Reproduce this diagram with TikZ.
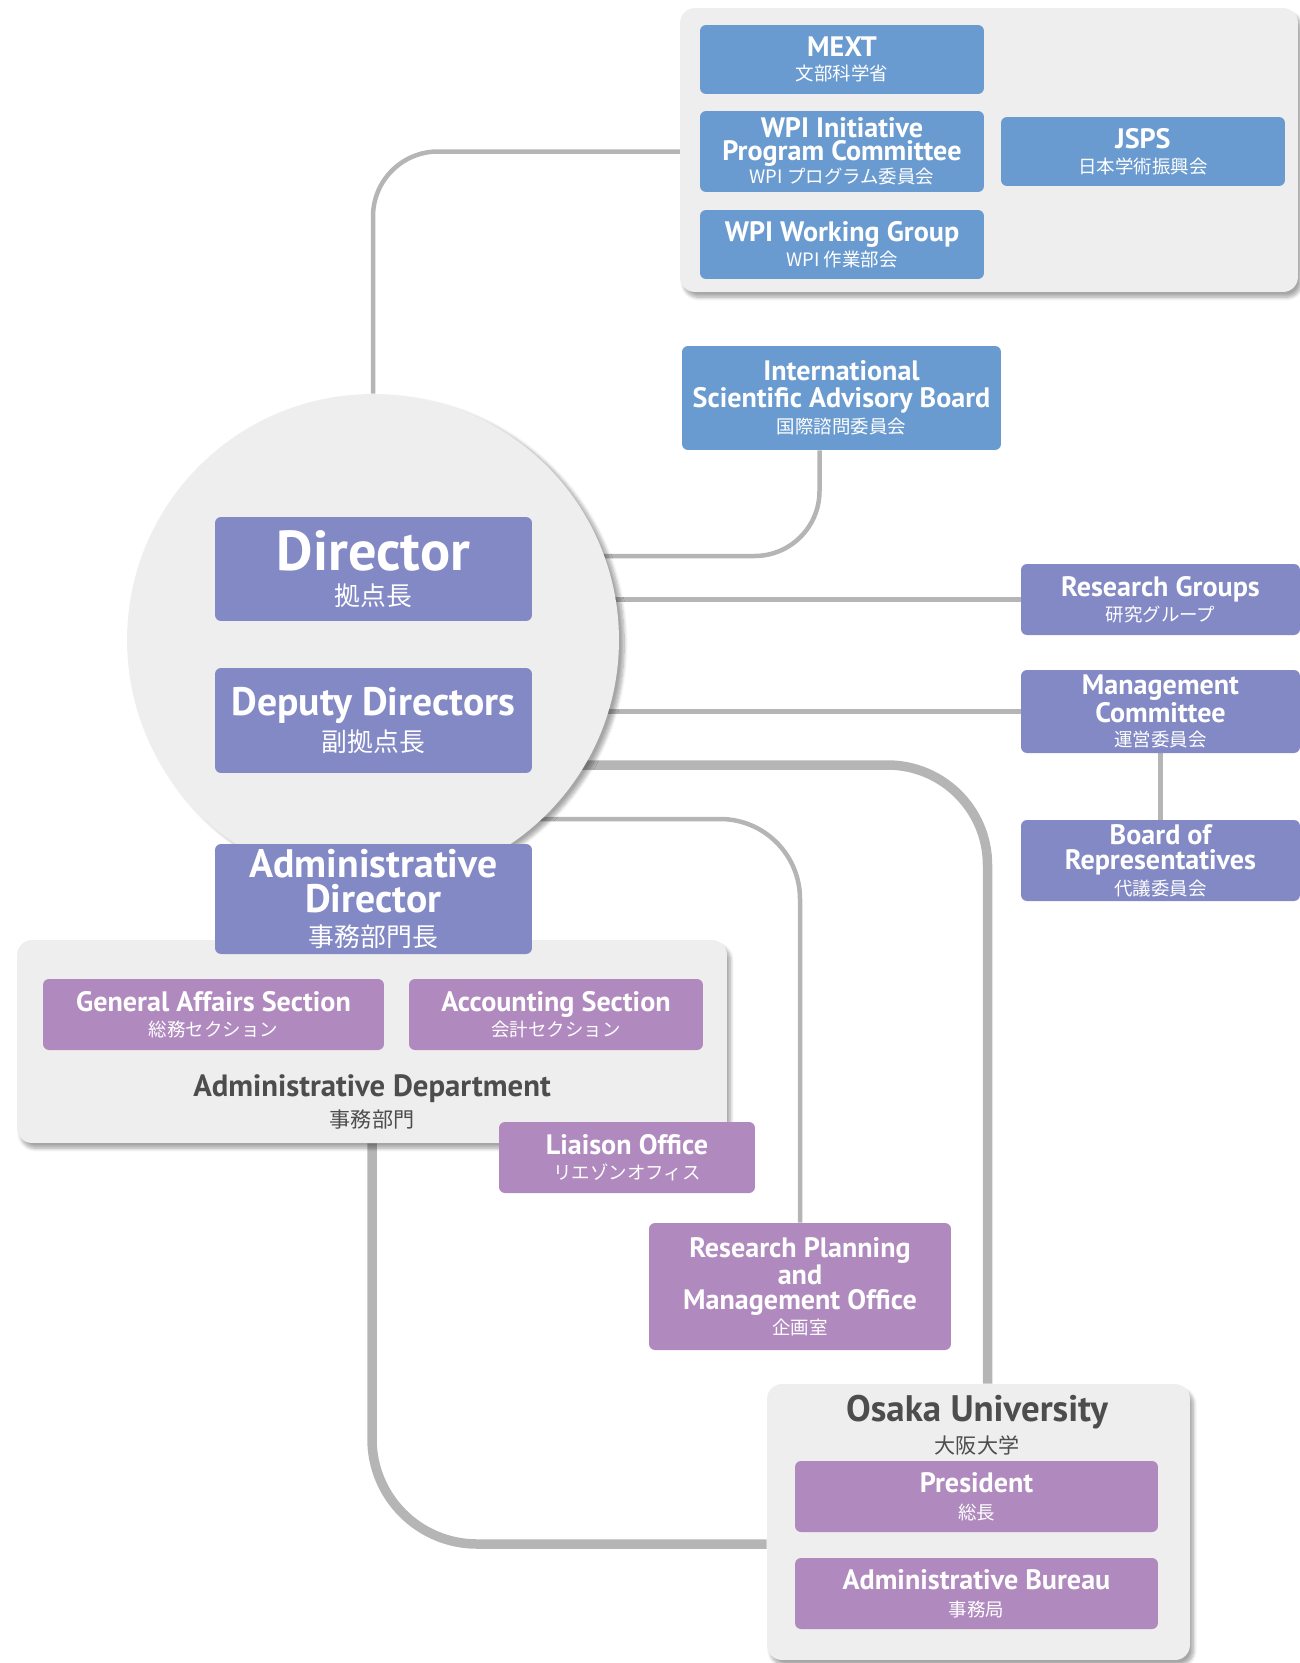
\documentclass[tikz,border=0pt]{standalone}
\usepackage{fontspec}
\setmainfont{PT Sans}
\newfontfamily\cjk{Noto Sans CJK JP}
\usetikzlibrary{calc,shadows.blur}
\definecolor{wpiblue}{RGB}{106,155,208}
\definecolor{dirviolet}{RGB}{130,137,196}
\definecolor{secmauve}{RGB}{176,137,190}
\definecolor{panelgray}{RGB}{238,238,238}
\definecolor{linegray}{RGB}{180,181,180}
\definecolor{darktext}{RGB}{77,77,77}
\newcommand{\jp}[2][10.5]{{\fontsize{#1}{12}\selectfont\mdseries\cjk #2}}
\pgfdeclarelayer{background}
\pgfsetlayers{background,main}

\begin{document}
\begin{tikzpicture}[x=0.02cm,y=-0.02cm,
	box/.style={rounded corners=0.12cm, align=center, text=white, inner sep=0pt, font=\fontsize{16}{14}\selectfont\bfseries},
	bluebox/.style={box, fill=wpiblue},
	violetbox/.style={box, fill=dirviolet},
	mauvebox/.style={box, fill=secmauve},
	panel/.style={fill=panelgray, rounded corners=0.3cm, inner sep=0pt, blur shadow={shadow xshift=2pt, shadow yshift=-3pt, shadow blur steps=8, shadow opacity=35}},
	conn/.style={draw=linegray, line width=0.09cm},
	thickconn/.style={draw=linegray, line width=0.19cm}]
	\useasboundingbox (0,0) rectangle (1300,1663);
	\node[panel, minimum width=12.36cm, minimum height=5.68cm] (funding) at (989,150) {};
	\node[bluebox, minimum width=5.68cm, minimum height=1.38cm] (mext) at (842,59.5) {MEXT\\\jp{文部科学省}};
	\node[bluebox, minimum width=5.68cm, minimum height=1.62cm, font=\fontsize{16}{13}\selectfont\bfseries] (wpipc) at (842,151.5) {WPI Initiative\\Program Committee\\\jp{WPI プログラム委員会}};
	\node[bluebox, minimum width=5.68cm, minimum height=1.38cm] (wpiwg) at (842,244.5) {WPI Working Group\\\jp{WPI 作業部会}};
	\node[bluebox, minimum width=5.68cm, minimum height=1.38cm] (jsps) at (1143,151.5) {JSPS\\\jp{日本学術振興会}};
	\node[bluebox, minimum width=6.38cm, minimum height=2.08cm, font=\fontsize{16}{15}\selectfont\bfseries] (isab) at (841.5,398) {International\\Scientific Advisory Board\\\jp{国際諮問委員会}};
	\node[circle, fill=panelgray, minimum size=9.84cm, inner sep=0pt, blur shadow={shadow xshift=3pt, shadow yshift=-2pt, shadow blur steps=8, shadow opacity=35}] (hub) at (373,640) {};
	\node[violetbox, minimum width=6.34cm, minimum height=2.08cm, font=\fontsize{32}{20}\selectfont\bfseries] (director) at (373.5,569) {Director\\\jp[14.7]{拠点長}};
	\node[violetbox, minimum width=6.34cm, minimum height=2.1cm, font=\fontsize{22.6}{20.5}\selectfont\bfseries] (deputy) at (373.5,720.5) {Deputy Directors\\\jp[14.7]{副拠点長}};
	\node[violetbox, minimum width=5.58cm, minimum height=1.42cm] (rg) at (1160.5,599.5) {Research Groups\\\jp{研究グループ}};
	\node[violetbox, minimum width=5.58cm, minimum height=1.66cm] (mc) at (1160.5,711.5) {Management\\Committee\\\jp{運営委員会}};
	\node[violetbox, minimum width=5.58cm, minimum height=1.62cm, font=\fontsize{16}{14.5}\selectfont\bfseries] (bor) at (1160.5,860.5) {Board of\\Representatives\\\jp{代議委員会}};
	\node[panel, minimum width=14.2cm, minimum height=4.06cm] (admdept) at (372,1041.5) {};
	\node[violetbox, minimum width=6.34cm, minimum height=2.2cm, font=\fontsize{22.6}{19.4}\selectfont\bfseries] (admdir) at (373.5,899) {Administrative\\Director\\\jp[14.7]{事務部門長}};
	\node[mauvebox, minimum width=6.82cm, minimum height=1.42cm] (gas) at (213.5,1014.5) {General Affairs Section\\\jp{総務セクション}};
	\node[mauvebox, minimum width=5.88cm, minimum height=1.42cm] (acc) at (556,1014.5) {Accounting Section\\\jp{会計セクション}};
	\node[align=center, text=darktext, font=\fontsize{17.5}{17.5}\selectfont\bfseries] (admdeptname) at (372,1102) {Administrative Department\\\jp[12]{事務部門}};
	\node[mauvebox, minimum width=5.12cm, minimum height=1.42cm] (liaison) at (627,1157.5) {Liaison Office\\\jp{リエゾンオフィス}};
	\node[mauvebox, minimum width=6.04cm, minimum height=2.54cm] (rpmo) at (800,1286.5) {Research Planning\\and\\Management Office\\\jp{企画室}};
	\node[panel, minimum width=8.46cm, minimum height=5.52cm] (osaka) at (978.5,1522) {};
	\node[align=center, text=darktext, font=\fontsize{21}{18.5}\selectfont\bfseries] (osakaname) at (977,1425) {Osaka University\\\jp[12]{大阪大学}};
	\node[mauvebox, minimum width=7.26cm, minimum height=1.42cm, font=\fontsize{16}{15.4}\selectfont\bfseries] (pres) at (976.5,1496.5) {President\\\jp{総長}};
	\node[mauvebox, minimum width=7.26cm, minimum height=1.42cm, font=\fontsize{16}{15.4}\selectfont\bfseries] (bureau) at (976.5,1593.5) {Administrative Bureau\\\jp{事務局}};
	\coordinate (isabin) at (373,556);
	\coordinate (hubosaka) at (373,765);
	\coordinate (hubrpmo) at (373,819);
	\begin{pgfonlayer}{background}
		\draw[conn, rounded corners=1.3cm] (wpipc.west) -| (hub.north);
		\draw[conn, rounded corners=1.3cm] ($(isab.south)+(-22,0)$) |- (isabin);
		\draw[conn, line width=0.1cm] (hub.center |- rg.west) -- (rg.west);
		\draw[conn] (hub.center |- mc.west) -- (mc.west);
		\draw[conn] (mc.south) -- (bor.north);
		\draw[thickconn, rounded corners=2cm] (hubosaka) -| ($(osaka.north)+(9,0)$);
		\draw[conn, rounded corners=1.6cm] (hubrpmo) -| (rpmo.north);
		\draw[thickconn, rounded corners=2.1cm] (admdept.south) |- ($(osaka.west)+(0,22)$);
	\end{pgfonlayer}
\end{tikzpicture}
\end{document}
